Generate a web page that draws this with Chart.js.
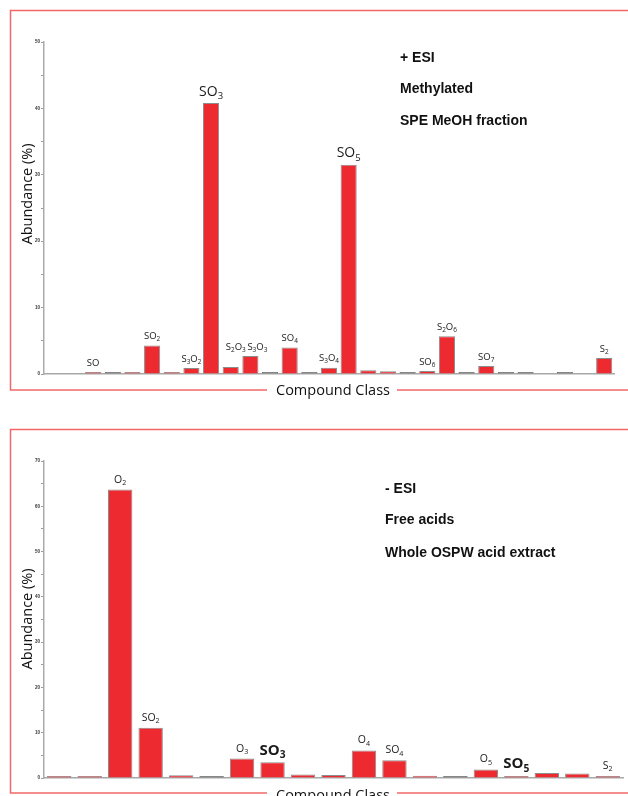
<!DOCTYPE html>
<html>
<head>
<meta charset="utf-8">
<script src="https://cdn.jsdelivr.net/npm/chart.js@4.4.1/dist/chart.umd.min.js"></script>
<style>
  html, body { margin: 0; padding: 0; background: #fff; width: 628px; height: 796px; overflow: hidden; }
  .panel { position: absolute; left: 0; width: 628px; }
  #p1 { top: 0; height: 400px; }
  #p2 { top: 400px; height: 396px; }
</style>
</head>
<body>
<div class="panel" id="p1"><canvas id="c1"></canvas></div>
<div class="panel" id="p2"><canvas id="c2"></canvas></div>
<script>
// ---- Positive ESI, methylated, SPE MeOH fraction ----
const posClasses = ['', '', 'SO', '', '', 'SO₂', '', 'S₃O₂', 'SO₃', 'S₂O₃', 'S₃O₃', '', 'SO₄', '', 'S₃O₄',
                    'SO₅', '', '', '', 'SO₆', 'S₂O₆', '', 'SO₇', '', '', '', '', '', 'S₂'];
const posAbundance = [null, null, 0.3, 0, 0.1, 4.3, 0.15, 0.9, 40.8, 1.05, 2.7, 0, 4.0, 0, 0.95,
                      31.5, 0.55, 0.4, 0, 0.45, 5.7, 0, 1.2, 0, 0, null, 0, null, 2.4];
const posNotes = ['+ ESI', 'Methylated', 'SPE MeOH fraction'];
const posTicks = [0, 10, 20, 30, 40, 50];

// ---- Negative ESI, free acids, whole OSPW acid extract ----
const negClasses = ['', '', 'O₂', 'SO₂', '', '', 'O₃', 'SO₃', '', '', 'O₄', 'SO₄', '', '', 'O₅', 'SO₅', '', '', 'S₂'];
const negAbundance = [0.2, 0.35, 63.7, 11.1, 0.6, 0, 4.3, 3.5, 0.75, 0.65, 6.1, 3.9, 0.5, 0, 1.9, 0.45, 1.1, 1.0, 0.45];
const negNotes = ['- ESI', 'Free acids', 'Whole OSPW acid extract'];
const negTicks = [0, 10, 20, 30, 40, 50, 60, 70];

const xTitle = 'Compound Class';
const yTitle = 'Abundance (%)';

const RED = '#ed2a30';
const FRAME = '#f26868';
const SUBS = '₀₁₂₃₄₅₆₇₈₉';

// Draws a formula such as "S₂O₆" centred on cx, with the digits set as real subscripts.
function drawFormula(ctx, text, cx, baseY, size, weight) {
  const runs = [];
  for (const ch of text) {
    const k = SUBS.indexOf(ch);
    const sub = k >= 0;
    const c = sub ? String(k) : ch;
    const last = runs[runs.length - 1];
    if (last && last.sub === sub) last.t += c; else runs.push({ t: c, sub });
  }
  const font = r => `${weight} ${r.sub ? size * 0.68 : size}px "Open Sans", sans-serif`;
  let w = 0;
  runs.forEach(r => { ctx.font = font(r); r.w = ctx.measureText(r.t).width; w += r.w; });
  let x = cx - w / 2;
  ctx.textAlign = 'left';
  ctx.textBaseline = 'alphabetic';
  runs.forEach(r => {
    ctx.font = font(r);
    ctx.fillText(r.t, x, baseY + (r.sub ? size * 0.24 : 0));
    x += r.w;
  });
}

const panelDecor = {
  id: 'panelDecor',
  beforeDraw(chart, args, o) {
    const ctx = chart.ctx;
    ctx.save();
    ctx.font = `${o.titleSize}px "Open Sans", sans-serif`;
    const tw = ctx.measureText(xTitle).width;
    const gapL = o.xTitleX - tw / 2 - 9, gapR = o.xTitleX + tw / 2 + 7;
    ctx.strokeStyle = FRAME;
    ctx.lineWidth = 1.5;
    ctx.beginPath();
    ctx.moveTo(gapL, o.frameBottom);
    ctx.lineTo(o.frameLeft, o.frameBottom);
    ctx.lineTo(o.frameLeft, o.frameTop);
    ctx.lineTo(chart.width + 4, o.frameTop);
    ctx.moveTo(gapR, o.frameBottom);
    ctx.lineTo(chart.width + 4, o.frameBottom);
    ctx.stroke();
    ctx.restore();
  },
  afterDatasetsDraw(chart, args, o) {
    const ctx = chart.ctx;
    const meta = chart.getDatasetMeta(0);
    ctx.save();
    ctx.fillStyle = '#1a1a1a';
    chart.data.labels.forEach((lab, i) => {
      if (!lab) return;
      const bar = meta.data[i];
      const big = o.big.includes(i);
      const t = o.tweak[i] || {};
      const size = big ? o.bigSize : o.smallSize;
      const gap = (big ? o.bigGap : o.smallGap) + (t.lift || 0);
      drawFormula(ctx, lab, bar.x + (t.dx || 0), bar.y - gap, size, big ? o.bigWeight : 400);
    });
    ctx.restore();
  },
  afterDraw(chart, args, o) {
    const ctx = chart.ctx;
    ctx.save();
    ctx.fillStyle = '#111';
    // axis titles
    ctx.font = `${o.titleSize}px "Open Sans", sans-serif`;
    ctx.textAlign = 'center';
    ctx.textBaseline = 'alphabetic';
    ctx.fillText(xTitle, o.xTitleX, o.xTitleY);
    ctx.save();
    ctx.translate(o.yTitleX, o.yTitleY);
    ctx.rotate(-Math.PI / 2);
    ctx.fillText(yTitle, 0, 0);
    ctx.restore();
    // run notes
    ctx.font = 'bold 14px "Liberation Sans", Arial, sans-serif';
    ctx.textAlign = 'left';
    o.notes.forEach((n, i) => ctx.fillText(n, o.noteX, o.noteY[i]));
    ctx.restore();
  }
};

function makeChart(id, labels, values, yMax, tickVals, pad, barPct, deco) {
  return new Chart(document.getElementById(id), {
    type: 'bar',
    data: {
      labels,
      datasets: [{
        data: values,
        backgroundColor: c => (c.raw === 0 ? '#6d6d6d' : RED),
        borderColor: c => (c.raw === 0 ? '#6d6d6d' : '#8c8c8c'),
        borderWidth: 1,
        minBarLength: 2,
        categoryPercentage: 1,
        barPercentage: barPct
      }]
    },
    options: {
      responsive: true,
      maintainAspectRatio: false,
      animation: false,
      events: [],
      layout: { padding: pad },
      plugins: { legend: { display: false }, tooltip: { enabled: false }, panelDecor: deco },
      scales: {
        x: {
          grid: { display: false, drawTicks: false },
          ticks: { display: false },
          border: { display: true, color: '#a8a8a8', width: 1.5 },
          afterFit: s => { s.height = 0; }
        },
        y: {
          min: 0,
          max: yMax,
          afterFit: s => { s.width = 44; },
          grid: { display: true, drawOnChartArea: false, drawTicks: true, tickLength: 3, color: '#9a9a9a', lineWidth: 1 },
          border: { display: true, color: '#ababab', width: 1.5 },
          ticks: {
            stepSize: 5,
            padding: 1,
            color: '#333',
            font: { size: 4.5, weight: 'bold', family: 'Arial' },
            callback: v => (tickVals.includes(v) ? String(v) : '')
          }
        }
      }
    },
    plugins: [panelDecor]
  });
}

makeChart('c1', posClasses, posAbundance, 50, posTicks,
  { left: 0, top: 42, right: 14, bottom: 26 }, 0.82, {
    frameLeft: 10.5, frameTop: 10.5, frameBottom: 390,
    xTitleX: 333, xTitleY: 395, yTitleX: 32, yTitleY: 194,
    titleSize: 14.5,
    big: [8, 15], bigSize: 14, bigWeight: 400, bigGap: 7.5,
    smallSize: 9.5, smallGap: 6.5,
    tweak: { 9: { dx: 5, lift: 11 }, 10: { dx: 7 } },
    notes: posNotes, noteX: 400, noteY: [61.7, 92.5, 124.7]
  });

makeChart('c2', negClasses, negAbundance, 70, negTicks,
  { left: 0, top: 61, right: 5, bottom: 18 }, 0.8, {
    frameLeft: 10.5, frameTop: 29.5, frameBottom: 393,
    xTitleX: 333, xTitleY: 400, yTitleX: 32, yTitleY: 219,
    titleSize: 14.5,
    big: [7, 15], bigSize: 15, bigWeight: 700, bigGap: 7.5,
    smallSize: 10.5, smallGap: 7,
    tweak: {},
    notes: negNotes, noteX: 385, noteY: [93.3, 124.3, 156.5]
  });
</script>
</body>
</html>
